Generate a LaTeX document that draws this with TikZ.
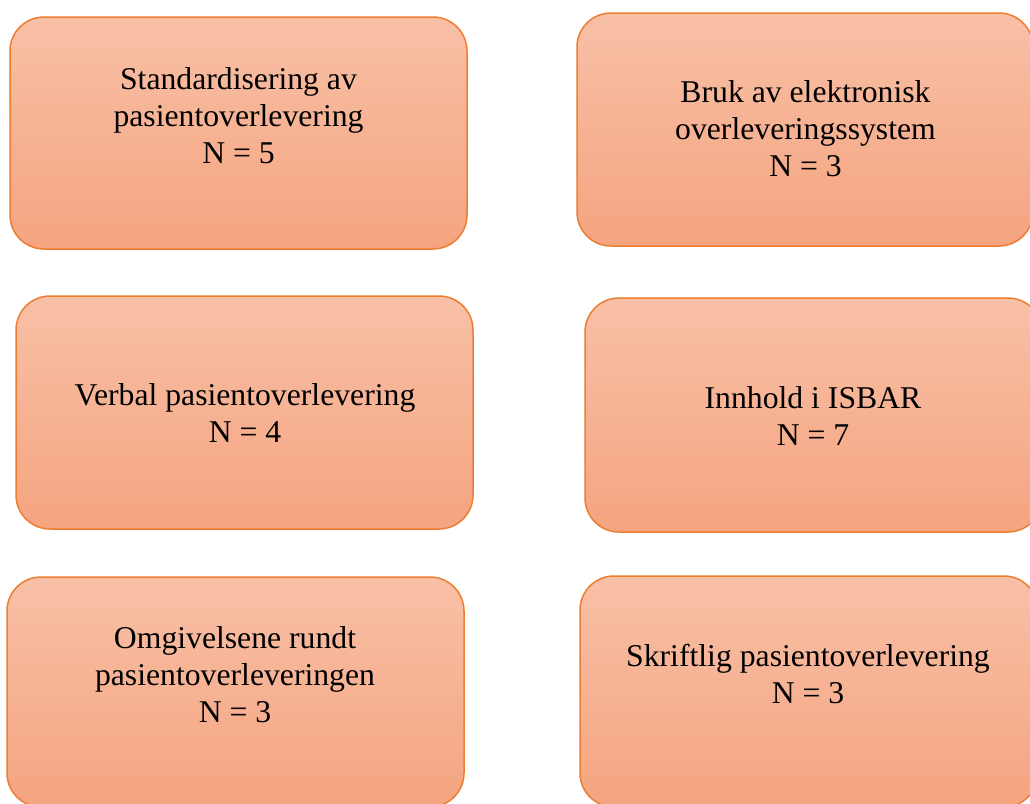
\documentclass[tikz,border=0pt]{standalone}
\usepackage{fontspec}
\setmainfont{Liberation Serif}
\usepackage{tikz}
\usetikzlibrary{positioning}
\definecolor{BoxTop}{HTML}{F8C0A7}
\definecolor{BoxBottom}{HTML}{F5A47F}
\definecolor{BoxEdge}{HTML}{ED7D31}

\tikzset{
  themebox/.style={rectangle, rounded corners=17pt, inner sep=0pt,
    top color=BoxTop, bottom color=BoxBottom, draw=BoxEdge, line width=0.75pt},
  themetext/.style={align=center, inner sep=0pt,
    font=\fontsize{15.85}{18.5}\selectfont}
}

\begin{document}
\begin{tikzpicture}[x=0.5pt, y=-0.5pt]
    % picture frame (1030 x 804)
    \useasboundingbox (0,0) rectangle (1030,804);
    \clip (0,0) rectangle (1030,804);

    % 1. Row one
    \node[themebox, minimum width=228.5pt, minimum height=116pt] (std) at (238.5,133) {};
    \node[themetext] (stdtxt) at (238.5,115.5) {Standardisering av\\pasientoverlevering\\N = 5};

    \node[themebox, minimum width=228pt, minimum height=116.5pt] (elek) at (805,129.5) {};
    \node[themetext] (elektxt) at (805.5,129) {Bruk av elektronisk\\overleveringssystem\\N = 3};

    % 2. Row two
    \node[themebox, minimum width=228.5pt, minimum height=116.5pt] (verb) at (244.5,412.5) {};
    \node[themetext] (verbtxt) at (245,413) {Verbal pasientoverlevering\\N = 4};

    \node[themebox, minimum width=228.5pt, minimum height=117pt] (isbar) at (813.5,415) {};
    \node[themetext] (isbartxt) at (813,416) {Innhold i ISBAR\\N = 7};

    % 3. Row three (cut off at the lower edge)
    \node[themebox, minimum width=228.5pt, minimum height=115pt] (omg) at (235.5,692) {};
    \node[themetext] (omgtxt) at (235,675) {Omgivelsene rundt\\pasientoverleveringen\\N = 3};

    \node[themebox, minimum width=229pt, minimum height=115.5pt] (skr) at (809,691.5) {};
    \node[themetext] (skrtxt) at (808,674) {Skriftlig pasientoverlevering\\N = 3};
\end{tikzpicture}
\end{document}
